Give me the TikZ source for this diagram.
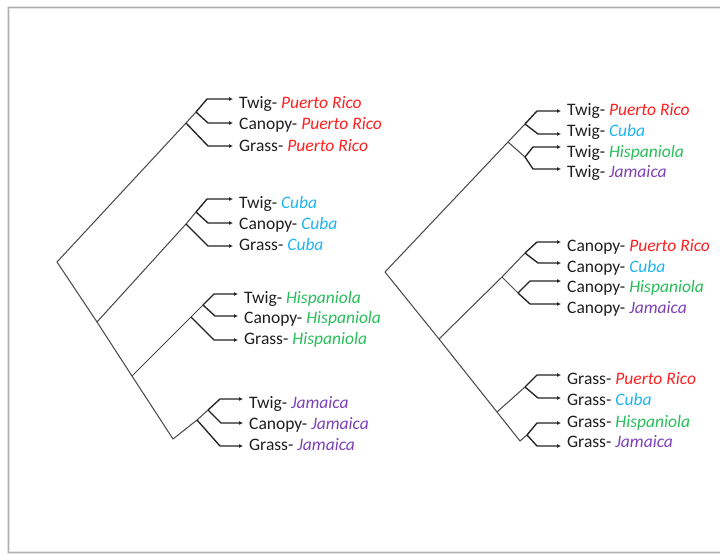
\documentclass[tikz,border=0pt]{standalone}
\usepackage{fontspec}
\setmainfont{Carlito}
\usetikzlibrary{arrows.meta}
\definecolor{prc}{RGB}{255,30,30}
\definecolor{cuc}{RGB}{30,180,240}
\definecolor{hic}{RGB}{40,190,90}
\definecolor{jac}{RGB}{125,65,185}
\definecolor{linegray}{RGB}{75,75,75}
\definecolor{leafgray}{RGB}{35,35,35}
\definecolor{txt}{RGB}{30,30,30}
\definecolor{framegray}{RGB}{175,175,175}
\definecolor{shadowgray}{RGB}{228,228,228}
\newcommand\islPR{\textcolor{prc}{\itshape Puerto Rico}}
\newcommand\islCU{\textcolor{cuc}{\itshape Cuba}}
\newcommand\islHI{\textcolor{hic}{\itshape Hispaniola}}
\newcommand\islJA{\textcolor{jac}{\itshape Jamaica}}
\begin{document}
\begin{tikzpicture}[x=1pt,y=-1pt,
  edge/.style={draw=linegray,line width=1.05pt,line join=round},
  leaf/.style={draw=leafgray,line width=1.35pt,line join=round,-{Latex[length=4pt,width=4pt]}},
  lbl/.style={anchor=base west,inner xsep=6pt,inner ysep=0pt,font=\fontsize{17.5}{21}\selectfont,text=txt}]
\useasboundingbox (0,0) rectangle (720,554);
% frame
\draw[shadowgray,line width=3pt] (8,7) rectangle (760,552);
\draw[framegray,line width=0.9pt] (8,7) rectangle (760,552);

% ---------- left tree ----------
\coordinate (L0) at (57,262);
\coordinate (LA) at (97,322);
\coordinate (LB) at (132,376);
\coordinate (LC) at (173,439);
\coordinate (G1) at (186,123); \coordinate (S1) at (196,112);
\coordinate (G2) at (186,224); \coordinate (S2) at (196,212);
\coordinate (G3) at (191,317); \coordinate (S3) at (203,305);
\coordinate (G4) at (197,420); \coordinate (S4) at (208,410);

\draw[edge] (G1) -- (L0) -- (LA) -- (LB) -- (LC) -- (G4) -- (S4);
\draw[edge] (LA) -- (G2) -- (S2);
\draw[edge] (LB) -- (G3) -- (S3);
\draw[edge] (G1) -- (S1);

% group 1
\coordinate (b11) at (207,99);  \node[lbl] (l11) at (233,108) {Twig- \islPR};
\coordinate (b12) at (208,123); \node[lbl] (l12) at (233,129) {Canopy- \islPR};
\coordinate (b13) at (208,146); \node[lbl] (l13) at (233,151) {Grass- \islPR};
\draw[leaf] (S1) -- (b11) -- (b11 -| l11.west);
\draw[leaf] (S1) -- (b12) -- (b12 -| l12.west);
\draw[leaf] (G1) -- (b13) -- (b13 -| l13.west);
% group 2
\coordinate (b21) at (207,199); \node[lbl] (l21) at (233,208) {Twig- \islCU};
\coordinate (b22) at (208,223); \node[lbl] (l22) at (233,229) {Canopy- \islCU};
\coordinate (b23) at (208,246); \node[lbl] (l23) at (233,250) {Grass- \islCU};
\draw[leaf] (S2) -- (b21) -- (b21 -| l21.west);
\draw[leaf] (S2) -- (b22) -- (b22 -| l22.west);
\draw[leaf] (G2) -- (b23) -- (b23 -| l23.west);
% group 3
\coordinate (b31) at (214,294); \node[lbl] (l31) at (238,303) {Twig- \islHI};
\coordinate (b32) at (215,316); \node[lbl] (l32) at (238,323) {Canopy- \islHI};
\coordinate (b33) at (214,340); \node[lbl] (l33) at (238,344) {Grass- \islHI};
\draw[leaf] (S3) -- (b31) -- (b31 -| l31.west);
\draw[leaf] (S3) -- (b32) -- (b32 -| l32.west);
\draw[leaf] (G3) -- (b33) -- (b33 -| l33.west);
% group 4
\coordinate (b41) at (220,399); \node[lbl] (l41) at (243,408) {Twig- \islJA};
\coordinate (b42) at (221,423); \node[lbl] (l42) at (243,429) {Canopy- \islJA};
\coordinate (b43) at (220,446); \node[lbl] (l43) at (243,450) {Grass- \islJA};
\draw[leaf] (S4) -- (b41) -- (b41 -| l41.west);
\draw[leaf] (S4) -- (b42) -- (b42 -| l42.west);
\draw[leaf] (G4) -- (b43) -- (b43 -| l43.west);

% ---------- right tree ----------
\coordinate (R0) at (385,272);
\coordinate (RA) at (439,339);
\coordinate (RB) at (520,441);
\coordinate (GT) at (508,142);
\coordinate (GC) at (502,277);
\coordinate (GG) at (497,412);
\coordinate (ST1) at (525,124); \coordinate (ST2) at (525,157);
\coordinate (SC1) at (525,253); \coordinate (SC2) at (518,293);
\coordinate (SG1) at (525,387); \coordinate (SG2) at (527,435);

\draw[edge] (GT) -- (R0) -- (RA) -- (GG) -- (RB) -- (SG2);
\draw[edge] (RA) -- (GC);
\draw[edge] (GT) -- (ST1);
\draw[edge] (GT) -- (ST2);
\draw[edge] (GC) -- (SC1);
\draw[edge] (GC) -- (SC2);
\draw[edge] (GG) -- (SG1);

% twig
\coordinate (bt1) at (537,111); \node[lbl] (lt1) at (561,115) {Twig- \islPR};
\coordinate (bt2) at (538,134); \node[lbl] (lt2) at (561,136) {Twig- \islCU};
\coordinate (bt3) at (533,147); \node[lbl] (lt3) at (561,157) {Twig- \islHI};
\coordinate (bt4) at (533,169); \node[lbl] (lt4) at (561,177) {Twig- \islJA};
\draw[leaf] (ST1) -- (bt1) -- (bt1 -| lt1.west);
\draw[leaf] (ST1) -- (bt2) -- (bt2 -| lt2.west);
\draw[leaf] (ST2) -- (bt3) -- (bt3 -| lt3.west);
\draw[leaf] (ST2) -- (bt4) -- (bt4 -| lt4.west);
% canopy
\coordinate (bc1) at (537,242); \node[lbl] (lc1) at (561,251) {Canopy- \islPR};
\coordinate (bc2) at (538,263); \node[lbl] (lc2) at (561,272) {Canopy- \islCU};
\coordinate (bc3) at (530,281); \node[lbl] (lc3) at (561,292) {Canopy- \islHI};
\coordinate (bc4) at (530,304); \node[lbl] (lc4) at (561,313) {Canopy- \islJA};
\draw[leaf] (SC1) -- (bc1) -- (bc1 -| lc1.west);
\draw[leaf] (SC1) -- (bc2) -- (bc2 -| lc2.west);
\draw[leaf] (SC2) -- (bc3) -- (bc3 -| lc3.west);
\draw[leaf] (SC2) -- (bc4) -- (bc4 -| lc4.west);
% grass
\coordinate (bg1) at (537,375); \node[lbl] (lg1) at (561,384) {Grass- \islPR};
\coordinate (bg2) at (538,398); \node[lbl] (lg2) at (561,405) {Grass- \islCU};
\coordinate (bg3) at (537,423); \node[lbl] (lg3) at (561,427) {Grass- \islHI};
\coordinate (bg4) at (537,446); \node[lbl] (lg4) at (561,447) {Grass- \islJA};
\draw[leaf] (SG1) -- (bg1) -- (bg1 -| lg1.west);
\draw[leaf] (SG1) -- (bg2) -- (bg2 -| lg2.west);
\draw[leaf] (SG2) -- (bg3) -- (bg3 -| lg3.west);
\draw[leaf] (SG2) -- (bg4) -- (bg4 -| lg4.west);
\end{tikzpicture}
\end{document}
